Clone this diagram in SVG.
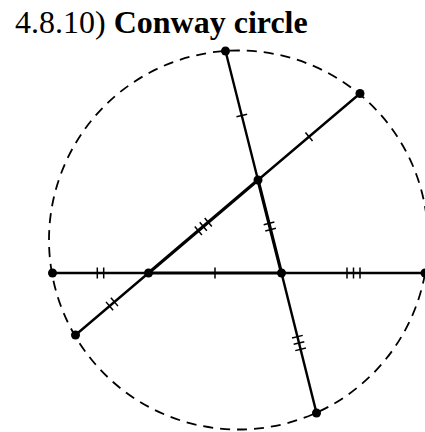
<svg xmlns="http://www.w3.org/2000/svg" width="425" height="432" viewBox="0 0 425 432">
<style>
.title{font-family:"Liberation Serif","Times New Roman",serif;font-size:32px;fill:#000}
.ext{stroke:#000;stroke-width:2.4;fill:none;stroke-linecap:round}
.side{stroke:#000;stroke-width:3.2;fill:none;stroke-linecap:round}
.tick{stroke:#000;stroke-width:1.5;fill:none}
.dot{fill:#000}
.circ{stroke:#000;stroke-width:1.8;fill:none;stroke-dasharray:10 7}
</style>
<rect width="425" height="432" fill="#fff"/>
<text class="title" x="15" y="32.5">4.8.10) <tspan font-weight="bold">Conway circle</tspan></text>
<g id="circle">
<circle class="circ" cx="238.5" cy="240" r="189.5"/>
</g>
<g id="connectors">
<line class="ext" x1="52.5" y1="273" x2="148.5" y2="273"/>
<line class="ext" x1="281.5" y1="273" x2="426" y2="273"/>
<line class="ext" x1="75.5" y1="335" x2="148.5" y2="273"/>
<line class="ext" x1="258" y1="180" x2="360" y2="93.5"/>
<line class="ext" x1="225.5" y1="51" x2="258" y2="180"/>
<line class="ext" x1="281.5" y1="273" x2="316.5" y2="413"/>
<line class="side" x1="148.5" y1="273" x2="281.5" y2="273"/>
<line class="side" x1="148.5" y1="273" x2="258" y2="180"/>
<line class="side" x1="258" y1="180" x2="281.5" y2="273"/>
</g>
<g id="ticks">
<g transform="translate(100.5 273)"><line class="tick" x1="-3.2" y1="-5.5" x2="-3.2" y2="5.5"/><line class="tick" x1="3.2" y1="-5.5" x2="3.2" y2="5.5"/></g>
<g transform="translate(215 273)"><line class="tick" x1="0" y1="-5.5" x2="0" y2="5.5"/></g>
<g transform="translate(353.5 273)"><line class="tick" x1="-6.5" y1="-5.5" x2="-6.5" y2="5.5"/><line class="tick" x1="0" y1="-5.5" x2="0" y2="5.5"/><line class="tick" x1="6.5" y1="-5.5" x2="6.5" y2="5.5"/></g>
<g transform="translate(112 304) rotate(-40.33)"><line class="tick" x1="-3.2" y1="-5.5" x2="-3.2" y2="5.5"/><line class="tick" x1="3.2" y1="-5.5" x2="3.2" y2="5.5"/></g>
<g transform="translate(203.3 226.5) rotate(-40.33)"><line class="tick" x1="-6.5" y1="-5.5" x2="-6.5" y2="5.5"/><line class="tick" x1="0" y1="-5.5" x2="0" y2="5.5"/><line class="tick" x1="6.5" y1="-5.5" x2="6.5" y2="5.5"/></g>
<g transform="translate(309 136.8) rotate(-40.33)"><line class="tick" x1="0" y1="-5.5" x2="0" y2="5.5"/></g>
<g transform="translate(241.8 115.5) rotate(75.89)"><line class="tick" x1="0" y1="-5.5" x2="0" y2="5.5"/></g>
<g transform="translate(269.8 226.5) rotate(75.89)"><line class="tick" x1="-3.2" y1="-5.5" x2="-3.2" y2="5.5"/><line class="tick" x1="3.2" y1="-5.5" x2="3.2" y2="5.5"/></g>
<g transform="translate(299 343) rotate(75.89)"><line class="tick" x1="-6.5" y1="-5.5" x2="-6.5" y2="5.5"/><line class="tick" x1="0" y1="-5.5" x2="0" y2="5.5"/><line class="tick" x1="6.5" y1="-5.5" x2="6.5" y2="5.5"/></g>
</g>
<g id="pL"><circle class="dot" cx="52.5" cy="273" r="4.5"/></g>
<g id="pA"><circle class="dot" cx="148.5" cy="273" r="4.5"/></g>
<g id="pB"><circle class="dot" cx="281.5" cy="273" r="4.5"/></g>
<g id="pR"><circle class="dot" cx="425" cy="273" r="4.5"/></g>
<g id="pC"><circle class="dot" cx="258" cy="180" r="4.5"/></g>
<g id="pT"><circle class="dot" cx="225.5" cy="51" r="4.5"/></g>
<g id="pUR"><circle class="dot" cx="360" cy="93.5" r="4.5"/></g>
<g id="pLL"><circle class="dot" cx="75.5" cy="335" r="4.5"/></g>
<g id="pBot"><circle class="dot" cx="316.5" cy="413" r="4.5"/></g>
</svg>
